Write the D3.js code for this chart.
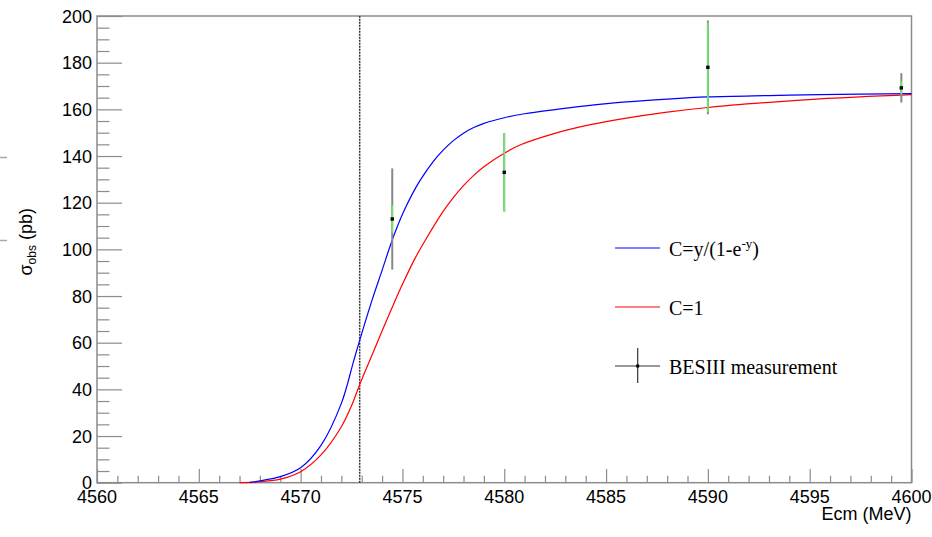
<!DOCTYPE html>
<html>
<head>
<meta charset="utf-8">
<script src="https://cdn.jsdelivr.net/npm/d3@7"></script>
<style>
  html, body { margin: 0; padding: 0; background: #fff; }
  svg { display: block; }
</style>
</head>
<body>
<svg id="chart" width="932" height="537"></svg>
<script>
// ---- data ----
const xDomain = [4560, 4600];
const yDomain = [0, 200];
const xTickValues = [4560, 4565, 4570, 4575, 4580, 4585, 4590, 4595, 4600];
const yTickValues = [0, 20, 40, 60, 80, 100, 120, 140, 160, 180, 200];
const thresholdE = 4572.9;

const blueE = [4567.5, 4568.0, 4569.0, 4570.0, 4571.0, 4572.0, 4572.6, 4572.9, 4573.5, 4574.0, 4574.5, 4575.0, 4575.5, 4575.9, 4576.5, 4577.0, 4577.5, 4578.0, 4578.5, 4579.0, 4580.0, 4581.0, 4582.4, 4584.0, 4586.0, 4588.0, 4590.0, 4593.0, 4595.5, 4600.0];
const blueSigma = [0.1, 0.8, 2.6, 6.4, 16, 34, 52, 61, 78, 91, 104, 115, 124, 130, 137.5, 142.5, 146.6, 149.8, 152.2, 154, 156.4, 158.1, 159.8, 161.5, 163.2, 164.4, 165.3, 165.9, 166.3, 166.7];

const redE = [4567.0, 4568.0, 4569.0, 4570.0, 4571.0, 4572.0, 4572.5, 4572.9, 4573.4, 4574.0, 4574.5, 4575.0, 4575.6, 4576.1, 4577.0, 4577.5, 4578.0, 4578.5, 4579.0, 4580.0, 4580.8, 4582.4, 4584.0, 4585.7, 4588.0, 4590.0, 4593.0, 4595.5, 4600.0];
const redSigma = [0, 0.4, 1.5, 4.7, 11.9, 24, 33, 42, 52.5, 65, 75.2, 85, 95.8, 103.6, 116.3, 122.2, 127.3, 131.7, 135.4, 141.2, 144.8, 149.5, 153, 155.8, 158.8, 160.8, 163, 164.5, 166.3];

const dataE = [4574.5, 4580.0, 4590.0, 4599.5];
const dataSigma = [113.0, 133.0, 178.0, 169.2];
const dataStat = [5.9, 16.6, 19.2, 2.8];
const dataTotal = [21.7, 16.8, 20.1, 6.3];

const legendLabels = ["C=1", "BESIII measurement"];

// ---- layout ----
const svg = d3.select("#chart");
const L = 97, R = 911.5, T = 16, B = 482.7;
const x = d3.scaleLinear().domain(xDomain).range([L, R]);
const y = d3.scaleLinear().domain(yDomain).range([B, T]);
const axisColor = "#8c8c8c";
const sansFont = "'Liberation Sans', Arial, Helvetica, sans-serif";
const serifFont = "'Liberation Serif', 'Times New Roman', serif";

// edge artifacts
svg.append("g").selectAll("line").data([157.5, 240.5]).join("line")
  .attr("x1", 0).attr("x2", 7).attr("y1", d => d).attr("y2", d => d)
  .attr("stroke", "#aaa").attr("stroke-width", 1.5);

// frame
svg.append("rect").attr("x", L).attr("y", T).attr("width", R - L).attr("height", B - T)
  .attr("fill", "none").attr("stroke", axisColor).attr("stroke-width", 1.5);

// x axis ticks (inside)
const xMinor = d3.range(xDomain[0], xDomain[1] + 0.001, 1).filter(v => v % 5 !== 0);
const xAxisMajor = d3.axisBottom(x).tickValues(xTickValues).tickSize(-13.7).tickFormat("");
const xAxisMinor = d3.axisBottom(x).tickValues(xMinor).tickSize(-7).tickFormat("");
[xAxisMinor, xAxisMajor].forEach(ax => {
  const g = svg.append("g").attr("transform", `translate(0,${B})`).call(ax);
  g.select(".domain").remove();
  g.selectAll(".tick line").attr("stroke", axisColor).attr("stroke-width", 1.2);
});
svg.append("g").selectAll("text").data(xTickValues).join("text")
  .attr("x", d => x(d)).attr("y", 503)
  .attr("text-anchor", "middle").attr("font-family", sansFont).attr("font-size", 18)
  .attr("fill", "#000").text(d => d);

// y axis ticks (inside)
const yMinor = d3.range(yDomain[0], yDomain[1] + 0.001, 5).filter(v => v % 20 !== 0);
const yAxisMajor = d3.axisLeft(y).tickValues(yTickValues).tickSize(-25).tickFormat("");
const yAxisMinor = d3.axisLeft(y).tickValues(yMinor).tickSize(-12.5).tickFormat("");
[yAxisMinor, yAxisMajor].forEach(ax => {
  const g = svg.append("g").attr("transform", `translate(${L},0)`).call(ax);
  g.select(".domain").remove();
  g.selectAll(".tick line").attr("stroke", axisColor).attr("stroke-width", 1.2);
});
svg.append("g").selectAll("text").data(yTickValues).join("text")
  .attr("x", 92).attr("y", d => y(d) + 6.5)
  .attr("text-anchor", "end").attr("font-family", sansFont).attr("font-size", 18)
  .attr("fill", "#000").text(d => d);

// axis titles
svg.append("text").attr("x", R).attr("y", 520).attr("text-anchor", "end")
  .attr("font-family", sansFont).attr("font-size", 18).text("Ecm (MeV)");
const yt = svg.append("text").attr("transform", "translate(32,208) rotate(-90)")
  .attr("text-anchor", "end").attr("font-family", sansFont).attr("font-size", 18);
yt.append("tspan").text("σ");
yt.append("tspan").attr("font-size", 12).attr("dy", 4).text("obs");
yt.append("tspan").attr("dy", -4).text(" (pb)");

// threshold line
svg.append("line").attr("x1", x(thresholdE)).attr("x2", x(thresholdE))
  .attr("y1", y(yDomain[0])).attr("y2", y(yDomain[1]))
  .attr("stroke", "#333").attr("stroke-width", 1.5).attr("stroke-dasharray", "2,1");

// curves
const line = d3.line().x(d => x(d[0])).y(d => y(d[1])).curve(d3.curveCatmullRom.alpha(0.5));
svg.append("path").datum(redE.map((e, i) => [e, redSigma[i]]))
  .attr("d", line).attr("fill", "none").attr("stroke", "#ff0000").attr("stroke-width", 1.2);
svg.append("path").datum(blueE.map((e, i) => [e, blueSigma[i]]))
  .attr("d", line).attr("fill", "none").attr("stroke", "#0000ff").attr("stroke-width", 1.2);

// data points
const pts = dataE.map((e, i) => ({ e, s: dataSigma[i], st: dataStat[i], tot: dataTotal[i] }));
const gp = svg.append("g");
gp.selectAll("line.tot").data(pts).join("line").attr("class", "tot")
  .attr("x1", d => x(d.e)).attr("x2", d => x(d.e))
  .attr("y1", d => y(d.s + d.tot)).attr("y2", d => y(d.s - d.tot))
  .attr("stroke", "#888").attr("stroke-width", 2);
gp.selectAll("line.st").data(pts).join("line").attr("class", "st")
  .attr("x1", d => x(d.e)).attr("x2", d => x(d.e))
  .attr("y1", d => y(d.s + d.st)).attr("y2", d => y(d.s - d.st))
  .attr("stroke", "#66ee66").attr("stroke-width", 1.5);
gp.selectAll("rect").data(pts).join("rect")
  .attr("x", d => x(d.e) - 1.7).attr("y", d => y(d.s) - 1.7)
  .attr("width", 3.4).attr("height", 3.4).attr("fill", "#000");

// legend
const lg = svg.append("g");
lg.append("line").attr("x1", 615).attr("x2", 660).attr("y1", 248).attr("y2", 248)
  .attr("stroke", "#0000ff").attr("stroke-width", 1.2);
const t1 = lg.append("text").attr("x", 669).attr("y", 256).attr("font-family", serifFont).attr("font-size", 20);
t1.append("tspan").text("C=y/(1-e");
t1.append("tspan").attr("font-size", 13).attr("dy", -8).text("-y");
t1.append("tspan").attr("dy", 8).text(")");
lg.append("line").attr("x1", 615).attr("x2", 660).attr("y1", 307).attr("y2", 307)
  .attr("stroke", "#ff0000").attr("stroke-width", 1.2);
lg.append("text").attr("x", 669).attr("y", 315).attr("font-family", serifFont).attr("font-size", 20).text(legendLabels[0]);
lg.append("line").attr("x1", 615).attr("x2", 660).attr("y1", 366).attr("y2", 366)
  .attr("stroke", "#333").attr("stroke-width", 1.2);
lg.append("line").attr("x1", 637.7).attr("x2", 637.7).attr("y1", 348).attr("y2", 383)
  .attr("stroke", "#333").attr("stroke-width", 1.2);
lg.append("rect").attr("x", 636.2).attr("y", 364.5).attr("width", 3).attr("height", 3).attr("fill", "#000");
lg.append("text").attr("x", 669).attr("y", 374).attr("font-family", serifFont).attr("font-size", 20).text(legendLabels[1]);
</script>
</body>
</html>
